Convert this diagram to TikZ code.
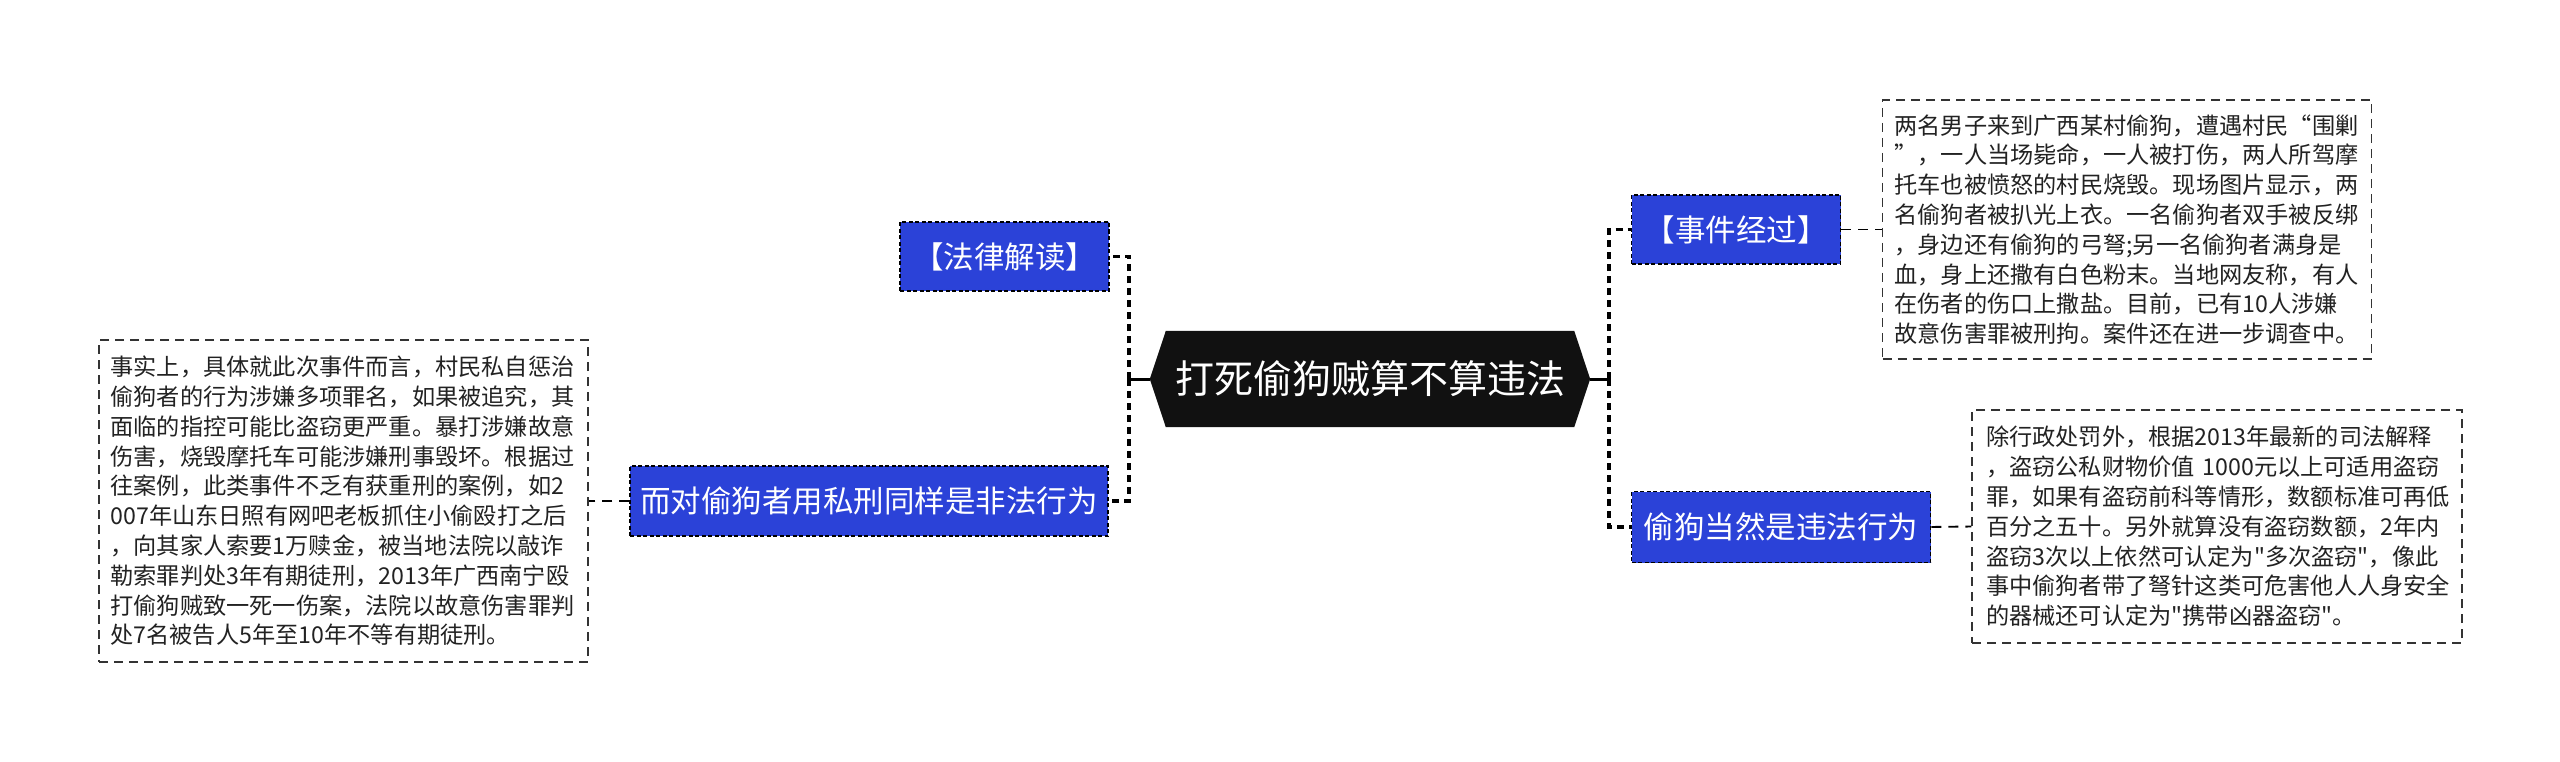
\documentclass[tikz,border=0pt]{standalone}
\usepackage{fontspec}
\newfontfamily\cjkfont{Noto Sans CJK SC}
\usetikzlibrary{calc}
\definecolor{nodeblue}{HTML}{2B42D8}
\definecolor{hexblack}{HTML}{111111}
\definecolor{boxline}{HTML}{333333}
\definecolor{leaftext}{HTML}{222222}
\begin{document}
\begin{tikzpicture}[x=1pt,y=-1pt,
  branch/.style={draw=black, fill=nodeblue, dash pattern=on 4pt off 2.5pt, line width=1.5pt, text=white, inner sep=0pt, font=\cjkfont\fontsize{30.5}{36}\selectfont},
  leaf/.style={draw=boxline, dash pattern=on 9pt off 6pt, line width=1.5pt, align=left, inner ysep=0pt, text=leaftext, font=\cjkfont\fontsize{23.2}{29.8}\selectfont},
  conn/.style={draw=black, line width=3.2pt, dash pattern=on 7pt off 5pt},
  leafconn/.style={draw=black, line width=1.9pt, dash pattern=on 10pt off 7pt},
  stub/.style={draw=black, line width=3pt}]
\useasboundingbox (0,0) rectangle (2560,762);
\fill[white] (0,0) rectangle (2560,762);

% central node
\node[minimum width=440pt, minimum height=96pt, inner sep=0pt] (center) at (1370,379) {};
\fill[hexblack] (center.west) -- ($(center.north west)+(16,0)$) -- ($(center.north east)+(-16,0)$) -- (center.east) -- ($(center.south east)+(-16,0)$) -- ($(center.south west)+(16,0)$) -- cycle;
\node[text=white, font=\cjkfont\fontsize{39}{46}\selectfont, inner sep=0pt] (ctext) at (center) {打死偷狗贼算不算违法};

% branch nodes
\node[branch, minimum width=209pt, minimum height=69pt] (falv) at (1004.5,256.5) {【法律解读】};
\node[branch, minimum width=478pt, minimum height=70pt] (erdui) at (869,501) {而对偷狗者用私刑同样是非法行为};
\node[branch, minimum width=209pt, minimum height=69pt] (shijian) at (1736,229.5) {【事件经过】};
\node[branch, minimum width=299pt, minimum height=71pt] (toug) at (1781,527) {偷狗当然是违法行为};

% leaf boxes
\node[leaf, text width=465pt, inner xsep=12pt, minimum height=259pt] (box1) at (2127,229.5) {两名男子来到广西某村偷狗，遭遇村民“围剿\\”，一人当场毙命，一人被打伤，两人所驾摩\\托车也被愤怒的村民烧毁。现场图片显示，两\\名偷狗者被扒光上衣。一名偷狗者双手被反绑\\，身边还有偷狗的弓弩;另一名偷狗者满身是\\血，身上还撒有白色粉末。当地网友称，有人\\在伤者的伤口上撒盐。目前，已有10人涉嫌\\故意伤害罪被刑拘。案件还在进一步调查中。};
\node[leaf, text width=462pt, inner xsep=14pt, minimum height=233pt] (box2) at (2217,526.5) {除行政处罚外，根据2013年最新的司法解释\\，盗窃公私财物价值 1000元以上可适用盗窃\\罪，如果有盗窃前科等情形，数额标准可再低\\百分之五十。另外就算没有盗窃数额，2年内\\盗窃3次以上依然可认定为"多次盗窃"，像此\\事中偷狗者带了弩针这类可危害他人人身安全\\的器械还可认定为"携带凶器盗窃"。};
\node[leaf, text width=466pt, inner xsep=11.5pt, minimum height=322pt] (box3) at (343.5,501) {事实上，具体就此次事件而言，村民私自惩治\\偷狗者的行为涉嫌多项罪名，如果被追究，其\\面临的指控可能比盗窃更严重。暴打涉嫌故意\\伤害，烧毁摩托车可能涉嫌刑事毁坏。根据过\\往案例，此类事件不乏有获重刑的案例，如2\\007年山东日照有网吧老板抓住小偷殴打之后\\，向其家人索要1万赎金，被当地法院以敲诈\\勒索罪判处3年有期徒刑，2013年广西南宁殴\\打偷狗贼致一死一伤案，法院以故意伤害罪判\\处7名被告人5年至10年不等有期徒刑。};

% connectors
\coordinate (lsp) at (1129,379);
\coordinate (rsp) at (1609,379);
\draw[stub] (center.west) -- (lsp);
\draw[stub] (center.east) -- (rsp);
\draw[conn] (lsp) |- (falv.east);
\draw[conn] (lsp) |- (erdui.east);
\draw[conn] (rsp) |- (shijian.west);
\draw[conn] (rsp) |- (toug.west);
\draw[leafconn] (shijian.east) -- (box1.west);
\draw[leafconn] (toug.east) -- (box2.west);
\draw[leafconn] (erdui.west) -- (box3.east);
\end{tikzpicture}
\end{document}
